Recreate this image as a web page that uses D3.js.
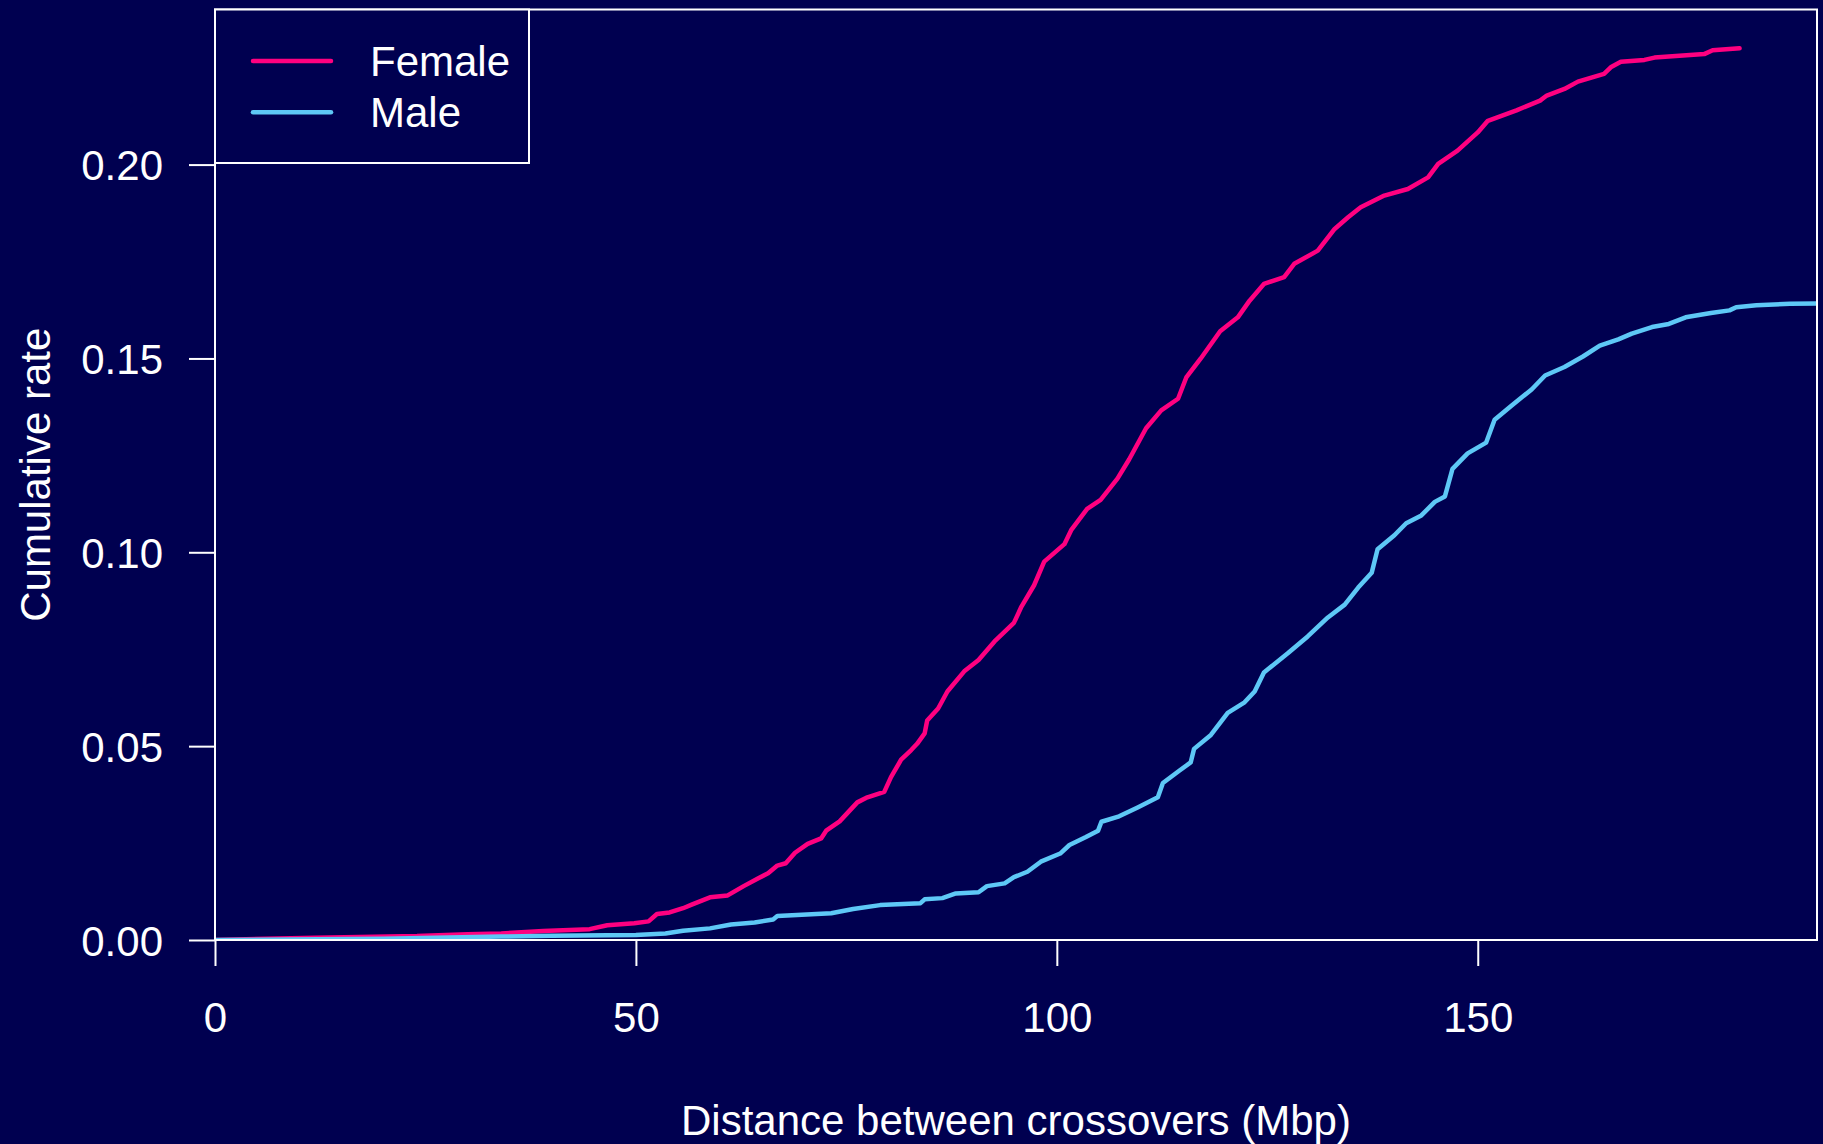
<!DOCTYPE html>
<html>
<head>
<meta charset="utf-8">
<script src="https://cdn.jsdelivr.net/npm/d3@7/dist/d3.min.js"></script>
<style>
  body { margin: 0; background: #000050; }
  text { font-family: "Liberation Sans", Arial, sans-serif; fill: #fff; }
</style>
</head>
<body>
<div id="chartHolder"></div>
<script>
// cumulative rate vs distance (Mbp)
const femaleX = [0, 12, 24, 30, 34, 39, 44.5, 46.6, 49.8, 51.5, 52.5, 54.0, 55.6, 56.7, 58.8, 60.9, 62.8, 64.6, 65.7, 66.8,
  67.8, 68.9, 70.4, 72.0, 72.6, 74.2, 76.3, 77.5, 79.5, 80.3, 81.5, 82.7, 83.4, 84.3, 84.6, 85.9, 87.0, 89.0, 90.7, 92.6,
  94.9, 95.8, 97.3, 98.5, 100.9, 101.7, 103.6, 105.2, 107.2, 108.6, 110.6, 112.4, 114.4, 115.4, 117.1, 119.4, 121.5, 122.9, 124.6, 127.0,
  128.2, 131.0, 133.0, 134.6, 136.1, 138.9, 141.7, 144.1, 145.3, 147.6, 150.0, 151.2, 154.6, 157.4, 158.2, 160.3, 161.9, 165.0, 165.8, 167.0,
  169.8, 171.0, 176.9, 177.9, 181.1];
const femaleY = [0, 0.0006, 0.0010, 0.0015, 0.0017, 0.0023, 0.0028, 0.0038, 0.0043, 0.0048, 0.0067, 0.0071, 0.0082, 0.0092, 0.0110, 0.0115, 0.0139, 0.0160, 0.0172, 0.0192,
  0.0198, 0.0225, 0.0248, 0.0262, 0.0282, 0.0306, 0.0355, 0.0368, 0.0382, 0.0420, 0.0465, 0.0490, 0.0506, 0.0533, 0.0566, 0.0597, 0.0641, 0.0693, 0.0722, 0.0770,
  0.0818, 0.0860, 0.0915, 0.0976, 0.1021, 0.1057, 0.1112, 0.1135, 0.1190, 0.1240, 0.1320, 0.1366, 0.1396, 0.1452, 0.1500, 0.1570, 0.1606, 0.1649, 0.1692, 0.1710,
  0.1744, 0.1778, 0.1834, 0.1864, 0.1890, 0.1920, 0.1937, 0.1967, 0.2002, 0.2036, 0.2083, 0.2113, 0.2140, 0.2165, 0.2178, 0.2195, 0.2214, 0.2234, 0.2251, 0.2265,
  0.2270, 0.2276, 0.2285, 0.2295, 0.2300];

const maleX = [0, 20, 34, 40, 50, 53.5, 55.6, 58.8, 61.3, 64.1, 66.3, 66.8, 73.2, 75.8, 79.0, 83.8, 84.3, 86.4, 88.0, 90.7,
  91.7, 93.8, 94.9, 96.5, 98.1, 100.4, 101.5, 103.4, 104.9, 105.3, 107.4, 109.6, 112.0, 112.6, 114.5, 115.9, 116.3, 118.3, 120.3, 122.3,
  123.5, 124.6, 127.4, 129.8, 132.2, 134.2, 135.8, 137.4, 138.1, 140.1, 141.5, 143.3, 144.9, 146.1, 147.0, 148.8, 151.0, 152.0, 154.0, 156.4,
  158.0, 160.3, 162.5, 164.5, 166.7, 168.3, 170.7, 172.7, 174.7, 177.7, 179.9, 180.7, 183.1, 187.1, 190.3];
const maleY = [0, 0.0003, 0.0009, 0.0011, 0.0013, 0.0017, 0.0024, 0.0030, 0.0040, 0.0045, 0.0053, 0.0062, 0.0069, 0.0080, 0.0090, 0.0095, 0.0105, 0.0108, 0.0120, 0.0123,
  0.0139, 0.0146, 0.0162, 0.0176, 0.0202, 0.0223, 0.0245, 0.0265, 0.0282, 0.0305, 0.0319, 0.0342, 0.0368, 0.0405, 0.0436, 0.0458, 0.0493, 0.0529, 0.0586, 0.0613,
  0.0641, 0.0690, 0.0739, 0.0783, 0.0832, 0.0865, 0.0909, 0.0947, 0.1008, 0.1044, 0.1075, 0.1095, 0.1130, 0.1144, 0.1215, 0.1255, 0.1283, 0.1342, 0.1378, 0.1420,
  0.1456, 0.1478, 0.1505, 0.1533, 0.1549, 0.1564, 0.1581, 0.1589, 0.1606, 0.1617, 0.1624, 0.1632, 0.1637, 0.1641, 0.1642];

const xTicks = [0, 50, 100, 150];
const yTicks = [0, 0.05, 0.10, 0.15, 0.20];
const seriesNames = ["Female", "Male"];
const seriesColors = ["#ff0080", "#5ec8f6"];

const w = 1823;
const h = 1144;
const plotLeft = 215, plotRight = 1817, plotTop = 9.5, plotBottom = 940;
const fontSize = 42;

const x = d3.scaleLinear().domain([0, 190.3]).range([plotLeft, plotRight]);
const y = d3.scaleLinear().domain([0, 0.24]).range([plotBottom, plotTop]);

const svg = d3.select("#chartHolder")
  .append("svg")
  .attr("width", w)
  .attr("height", h)
  .style("display", "block")
  .style("background", "#000050");

svg.append("defs").append("clipPath").attr("id", "plotclip")
  .append("rect")
  .attr("x", plotLeft).attr("y", plotTop)
  .attr("width", plotRight - plotLeft).attr("height", plotBottom - plotTop);

// axes
const xAxis = d3.axisBottom(x).tickValues(xTicks).tickSize(26).tickPadding(37).tickFormat(d3.format("d"));
const gx = svg.append("g").attr("transform", "translate(0," + plotBottom + ")").call(xAxis);

const yAxis = d3.axisLeft(y).tickValues(yTicks).tickSize(26).tickPadding(26).tickFormat(d3.format(".2f"));
const gy = svg.append("g").attr("transform", "translate(" + plotLeft + ",0)").call(yAxis);

[gx, gy].forEach(g => {
  g.select(".domain").remove();
  g.selectAll("line").attr("stroke", "#fff").attr("stroke-width", 2);
  g.selectAll("text").attr("font-size", fontSize).attr("font-family", "Liberation Sans, Arial, sans-serif").attr("fill", "#fff");
});
gx.selectAll("text").attr("dy", "0.68em");
gy.selectAll("text").attr("dy", "0.36em");

// lines
const line = d3.line().x(d => x(d[0])).y(d => y(d[1]));
const series = [
  d3.zip(femaleX, femaleY),
  d3.zip(maleX, maleY)
];

svg.append("g").attr("clip-path", "url(#plotclip)")
  .selectAll("path")
  .data(series)
  .enter()
  .append("path")
  .attr("d", line)
  .attr("fill", "none")
  .attr("stroke", (d, i) => seriesColors[i])
  .attr("stroke-width", 4.5)
  .attr("stroke-linejoin", "round")
  .attr("stroke-linecap", "round");

// plot box
svg.append("rect")
  .attr("x", plotLeft).attr("y", plotTop)
  .attr("width", plotRight - plotLeft).attr("height", plotBottom - plotTop)
  .attr("fill", "none").attr("stroke", "#fff").attr("stroke-width", 2);

// axis titles
svg.append("text")
  .attr("x", (plotLeft + plotRight) / 2)
  .attr("y", 1135)
  .attr("text-anchor", "middle")
  .attr("font-size", fontSize)
  .text("Distance between crossovers (Mbp)");

svg.append("text")
  .attr("text-anchor", "middle")
  .attr("transform", "translate(50," + ((plotTop + plotBottom) / 2) + ")rotate(-90)")
  .attr("font-size", fontSize)
  .text("Cumulative rate");

// legend
const legendBox = svg.append("g");
legendBox.append("rect")
  .attr("x", plotLeft).attr("y", plotTop)
  .attr("width", 529 - plotLeft).attr("height", 163 - plotTop)
  .attr("fill", "#000050").attr("stroke", "#fff").attr("stroke-width", 2);

const legend = legendBox.selectAll(".legend")
  .data(seriesNames)
  .enter()
  .append("g")
  .attr("class", "legend")
  .attr("transform", (d, i) => "translate(0," + (61 + i * 51.3) + ")");

legend.append("line")
  .attr("x1", 253).attr("x2", 331)
  .attr("stroke", (d, i) => seriesColors[i])
  .attr("stroke-width", 4.5)
  .attr("stroke-linecap", "round");

legend.append("text")
  .attr("x", 370)
  .attr("dy", "0.36em")
  .attr("font-size", fontSize)
  .text(d => d);
</script>
</body>
</html>
